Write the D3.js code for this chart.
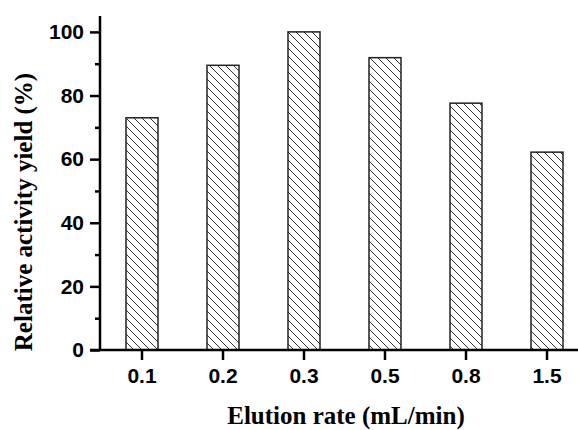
<!DOCTYPE html>
<html>
<head>
<meta charset="utf-8">
<script src="https://cdn.jsdelivr.net/npm/d3@7"></script>
<style>
  body { margin: 0; background: #fff; }
  svg { display: block; }
</style>
</head>
<body>
<script>
// data
const rates = ["0.1", "0.2", "0.3", "0.5", "0.8", "1.5"];
const yields = [73.0, 89.5, 100.0, 91.9, 77.6, 62.2];
const yTicks = [0, 20, 40, 60, 80, 100];
const yMinor = [10, 30, 50, 70, 90];

const width = 578, height = 430;

const svg = d3.select("body").append("svg")
    .attr("width", width)
    .attr("height", height);

// hatch pattern "\\\"
svg.append("defs").append("pattern")
    .attr("id", "hatch")
    .attr("patternUnits", "userSpaceOnUse")
    .attr("width", 8)
    .attr("height", 8)
  .append("path")
    .attr("d", "M0,0L8,8M-2,6L2,10M6,-2L10,2")
    .attr("stroke", "#333")
    .attr("stroke-width", 1);

const x = d3.scaleBand()
    .domain(rates)
    .range([100, 589])
    .paddingInner(0.605)
    .paddingOuter(0.321);

const y = d3.scaleLinear()
    .domain([0, 105])
    .range([350, 16]);

// bars
svg.append("g")
  .selectAll("rect")
  .data(rates)
  .join("rect")
    .attr("x", d => x(d))
    .attr("y", (d, i) => y(yields[i]))
    .attr("width", x.bandwidth())
    .attr("height", (d, i) => y(0) - y(yields[i]))
    .attr("fill", "url(#hatch)")
    .attr("stroke", "#222")
    .attr("stroke-width", 1.5);

// y axis
const yAxis = svg.append("g")
    .attr("transform", "translate(100,0)")
    .call(d3.axisLeft(y).tickValues(yTicks).tickSize(10).tickPadding(6));
yAxis.append("g")
    .call(d3.axisLeft(y).tickValues(yMinor).tickSize(5).tickFormat(""))
    .select(".domain").remove();
yAxis.select(".domain")
    .attr("d", `M0,${y(0)}V${y(105)}`);

// x axis
const xAxis = svg.append("g")
    .attr("transform", "translate(0,350)")
    .call(d3.axisBottom(x).tickSize(10).tickPadding(8));
xAxis.select(".domain")
    .attr("d", "M90,0H578");

[xAxis, yAxis].forEach(g => g
    .attr("font-size", 21)
    .attr("font-weight", "bold")
    .attr("font-family", "'Liberation Sans', Arial, sans-serif"));

svg.selectAll(".domain, .tick line")
    .attr("stroke", "#000")
    .attr("stroke-width", 2.5);
svg.selectAll(".tick text")
    .attr("fill", "#000");

// axis titles
svg.append("text")
    .attr("x", 346)
    .attr("y", 424)
    .attr("text-anchor", "middle")
    .attr("font-family", "'Liberation Serif', 'Times New Roman', serif")
    .attr("font-weight", "bold")
    .attr("font-size", 25)
    .text("Elution rate (mL/min)");

svg.append("text")
    .attr("transform", "translate(32,212) rotate(-90)")
    .attr("text-anchor", "middle")
    .attr("font-family", "'Liberation Serif', 'Times New Roman', serif")
    .attr("font-weight", "bold")
    .attr("font-size", 25)
    .text("Relative activity yield (%)");
</script>
</body>
</html>
